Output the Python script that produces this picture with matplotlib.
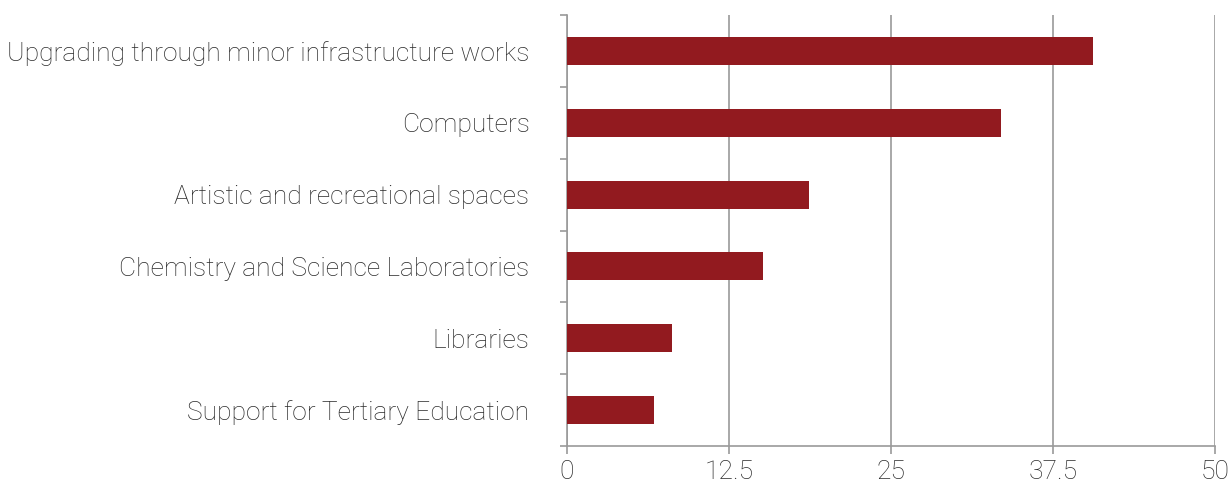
import numpy as np
import matplotlib.pyplot as plt

categories = [
    "Upgrading through minor infrastructure works",
    "Computers",
    "Artistic and recreational spaces",
    "Chemistry and Science Laboratories",
    "Libraries",
    "Support for Tertiary Education",
]
values = [40.6, 33.5, 18.7, 15.1, 8.1, 6.7]
x_ticks = [0, 12.5, 25, 37.5, 50]
x_labels = ["0", "12.5", "25", "37.5", "50"]

bar_color = "#921a1f"
text_color = "#2a2a2a"
grid_color = "#9a9a9a"

plt.rcParams['font.family'] = ['Roboto', 'DejaVu Sans']

fig = plt.figure(figsize=(12.3, 4.93), dpi=100)
ax = fig.add_axes([567 / 1230, 1 - 446 / 493, 648 / 1230, 431 / 493])

y = np.arange(len(categories))
ax.barh(y, values, height=0.39, color=bar_color, zorder=3)
ax.set_ylim(len(categories) - 0.5, -0.5)
ax.set_xlim(0, 50)

ax.set_xticks(x_ticks)
ax.set_xticklabels(x_labels, fontsize=19, color=text_color, fontweight='light')
ax.tick_params(axis='x', length=6, width=1.2, color=grid_color, pad=4)
ax.grid(axis='x', color=grid_color, linewidth=1.2, zorder=0)

ax.set_yticks(y)
ax.set_yticklabels(categories, fontsize=19, color=text_color, fontweight='light')
ax.tick_params(axis='y', which='major', length=0, pad=27)
ax.set_yticks(np.arange(len(categories) + 1) - 0.5, minor=True)
ax.tick_params(axis='y', which='minor', length=5, width=1.2, color=grid_color)

for side in ['top', 'right']:
    ax.spines[side].set_visible(False)
for side in ['left', 'bottom']:
    ax.spines[side].set_color(grid_color)
    ax.spines[side].set_linewidth(1.2)

fig.savefig("out.png", dpi=100)
